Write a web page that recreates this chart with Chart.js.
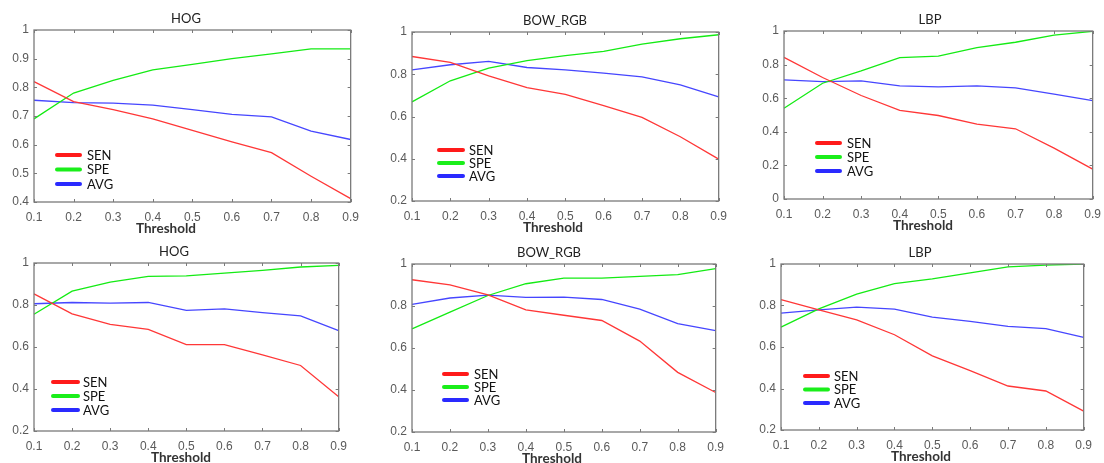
<!DOCTYPE html>
<html>
<head>
<meta charset="utf-8">
<script src="https://cdn.jsdelivr.net/npm/chart.js@4.4.1/dist/chart.umd.min.js"></script>
<style>
  html, body { margin: 0; padding: 0; background: #fff; overflow: hidden; width: 1104px; height: 463px; }
  canvas { position: absolute; }
</style>
</head>
<body>
<canvas id="c1"></canvas>
<canvas id="c2"></canvas>
<canvas id="c3"></canvas>
<canvas id="c4"></canvas>
<canvas id="c5"></canvas>
<canvas id="c6"></canvas>
<script>
// DATA

const thresholds = ['0.1', '0.2', '0.3', '0.4', '0.5', '0.6', '0.7', '0.8', '0.9'];
const seriesNames = ['SEN', 'SPE', 'AVG'];

// top row
const hogSenTop = [0.82, 0.75, 0.722, 0.69, 0.65, 0.61, 0.572, 0.49, 0.412];
const hogSpeTop = [0.69, 0.78, 0.824, 0.861, 0.88, 0.90, 0.917, 0.934, 0.934];
const hogAvgTop = [0.755, 0.747, 0.745, 0.738, 0.722, 0.706, 0.697, 0.647, 0.618];

const bowSenTop = [0.884, 0.856, 0.792, 0.737, 0.705, 0.651, 0.596, 0.504, 0.398];
const bowSpeTop = [0.669, 0.769, 0.829, 0.864, 0.888, 0.908, 0.943, 0.968, 0.987];
const bowAvgTop = [0.821, 0.845, 0.861, 0.832, 0.821, 0.805, 0.788, 0.75, 0.693];

const lbpSenTop = [0.843, 0.723, 0.616, 0.527, 0.497, 0.446, 0.418, 0.303, 0.178];
const lbpSpeTop = [0.54, 0.689, 0.762, 0.842, 0.851, 0.901, 0.933, 0.976, 0.998];
const lbpAvgTop = [0.709, 0.699, 0.703, 0.673, 0.667, 0.673, 0.661, 0.624, 0.586];

// bottom row
const hogSenBot = [0.853, 0.758, 0.708, 0.684, 0.611, 0.611, 0.562, 0.512, 0.363];
const hogSpeBot = [0.756, 0.866, 0.909, 0.936, 0.939, 0.952, 0.965, 0.981, 0.989];
const hogAvgBot = [0.806, 0.812, 0.809, 0.812, 0.774, 0.782, 0.764, 0.748, 0.678];

const bowSenBot = [0.925, 0.901, 0.853, 0.782, 0.756, 0.731, 0.633, 0.484, 0.388];
const bowSpeBot = [0.691, 0.771, 0.85, 0.906, 0.933, 0.933, 0.941, 0.949, 0.978];
const bowAvgBot = [0.808, 0.838, 0.852, 0.841, 0.842, 0.831, 0.785, 0.716, 0.683];

const lbpSenBot = [0.828, 0.779, 0.731, 0.659, 0.557, 0.486, 0.412, 0.388, 0.291];
const lbpSpeBot = [0.696, 0.784, 0.855, 0.905, 0.928, 0.957, 0.986, 0.995, 1.0];
const lbpAvgBot = [0.763, 0.779, 0.792, 0.783, 0.744, 0.723, 0.699, 0.689, 0.646];

// LAYOUT (plot box in page pixels: left, top, right, bottom; title centres in page x)

const lineColors = ['rgb(255,55,55)', 'rgb(20,235,20)', 'rgb(70,70,255)'];
const legendColors = ['#ff1a1a', '#1aee1a', '#2a2aff'];

const panels = [
  { id: 'c1', title: 'HOG', data: [hogSenTop, hogSpeTop, hogAvgTop], yMin: 0.4, yStep: 0.1,
    box: [34, 30, 355, 202], titleX: 186, xTitleX: 166,
    legend: { x0: 23, x1: 46, tx: 53, y: 125, gap: 14.5 } },
  { id: 'c2', title: 'BOW_RGB', data: [bowSenTop, bowSpeTop, bowAvgTop], yMin: 0.2, yStep: 0.2,
    box: [412, 32, 723, 201], titleX: 555, xTitleX: 553,
    legend: { x0: 27, x1: 51, tx: 57, y: 118, gap: 13 } },
  { id: 'c3', title: 'LBP', data: [lbpSenTop, lbpSpeTop, lbpAvgTop], yMin: 0, yStep: 0.2,
    box: [784, 31, 1097, 199], titleX: 930, xTitleX: 923,
    legend: { x0: 33, x1: 56, tx: 63, y: 112, gap: 14 } },
  { id: 'c4', title: 'HOG', data: [hogSenBot, hogSpeBot, hogAvgBot], yMin: 0.2, yStep: 0.2,
    box: [34, 263, 343, 431], titleX: 174, xTitleX: 181,
    legend: { x0: 19, x1: 44, tx: 49, y: 119, gap: 14 } },
  { id: 'c5', title: 'BOW_RGB', data: [bowSenBot, bowSpeBot, bowAvgBot], yMin: 0.2, yStep: 0.2,
    box: [412, 264, 720, 432], titleX: 549, xTitleX: 552,
    legend: { x0: 32, x1: 55, tx: 62, y: 110, gap: 13 } },
  { id: 'c6', title: 'LBP', data: [lbpSenBot, lbpSpeBot, lbpAvgBot], yMin: 0.2, yStep: 0.2,
    box: [781, 264, 1088, 430], titleX: 920, xTitleX: 921,
    legend: { x0: 24, x1: 47, tx: 53, y: 112, gap: 13.5 } },
];

const AXIS_W = 40;
const TOP_H = 30;
const X_H = 36;
const RIGHT_PAD = 12;
const AXIS_COLOR = '#7a7a7a';
const LABEL_FONT = 'Lato, "Open Sans", sans-serif';

// box, inward ticks, titles and legend, MATLAB style
const framePlugin = {
  id: 'frame',
  afterDraw(chart, args, opts) {
    const ctx = chart.ctx;
    const a = chart.chartArea;
    const xs = chart.scales.x;
    const ys = chart.scales.y;
    const tl = 3;
    ctx.save();
    ctx.strokeStyle = AXIS_COLOR;
    ctx.lineWidth = 1.3;
    ctx.strokeRect(a.left, a.top, a.right - a.left, a.bottom - a.top);
    ctx.lineWidth = 1;
    ctx.beginPath();
    xs.ticks.forEach(function (t, i) {
      const px = Math.round(xs.getPixelForTick(i)) + 0.5;
      ctx.moveTo(px, a.bottom); ctx.lineTo(px, a.bottom - tl);
      ctx.moveTo(px, a.top); ctx.lineTo(px, a.top + tl);
    });
    ys.ticks.forEach(function (t) {
      const py = Math.round(ys.getPixelForValue(t.value)) + 0.5;
      ctx.moveTo(a.left, py); ctx.lineTo(a.left + tl, py);
      ctx.moveTo(a.right, py); ctx.lineTo(a.right - tl, py);
    });
    ctx.stroke();

    // titles
    ctx.textAlign = 'center';
    ctx.textBaseline = 'middle';
    ctx.fillStyle = '#222';
    ctx.font = '13px ' + LABEL_FONT;
    ctx.fillText(opts.title, opts.titleX, a.top - 11);
    ctx.fillStyle = '#333';
    ctx.font = 'bold 13.5px ' + LABEL_FONT;
    ctx.fillText(opts.xTitle, opts.xTitleX, a.bottom + 27);

    // legend
    const lg = opts.legend;
    ctx.textAlign = 'left';
    ctx.lineCap = 'round';
    ctx.lineWidth = 4;
    ctx.font = '13px ' + LABEL_FONT;
    ctx.fillStyle = '#111';
    chart.data.datasets.forEach(function (ds, i) {
      const y = a.top + lg.y + i * lg.gap;
      ctx.strokeStyle = legendColors[i];
      ctx.beginPath();
      ctx.moveTo(a.left + lg.x0, y);
      ctx.lineTo(a.left + lg.x1, y);
      ctx.stroke();
      ctx.fillText(ds.label, a.left + lg.tx, y + 0.5);
    });
    ctx.restore();
  }
};

function fmt(v) {
  return String(Math.round(v * 10) / 10);
}

panels.forEach(function (p) {
  const canvas = document.getElementById(p.id);
  const [L, T, R, B] = p.box;
  const w = (R - L) + AXIS_W + RIGHT_PAD;
  const h = (B - T) + TOP_H + X_H;
  const left = L - AXIS_W;
  canvas.width = w;
  canvas.height = h;
  canvas.style.left = left + 'px';
  canvas.style.top = (T - TOP_H) + 'px';
  canvas.style.width = w + 'px';
  canvas.style.height = h + 'px';

  new Chart(canvas.getContext('2d'), {
    type: 'line',
    data: {
      labels: thresholds,
      datasets: p.data.map(function (vals, i) {
        return {
          label: seriesNames[i],
          data: vals,
          borderColor: lineColors[i],
          borderWidth: 1.3,
          pointRadius: 0,
          tension: 0,
          fill: false,
        };
      }),
    },
    options: {
      responsive: false,
      animation: false,
      devicePixelRatio: 1,
      layout: { padding: { left: 0, right: RIGHT_PAD, top: TOP_H, bottom: 0 } },
      plugins: {
        legend: { display: false },
        tooltip: { enabled: false },
        title: { display: false },
        frame: {
          legend: p.legend,
          title: p.title,
          titleX: p.titleX - left,
          xTitle: 'Threshold',
          xTitleX: p.xTitleX - left,
        },
      },
      scales: {
        x: {
          type: 'category',
          offset: false,
          grid: { display: false, drawTicks: false },
          border: { display: false },
          ticks: {
            color: '#5a5a5a',
            font: { family: '"Liberation Sans", Arial, sans-serif', size: 12 },
            padding: 8,
            maxRotation: 0,
            autoSkip: false,
          },
          afterFit: function (scale) { scale.height = X_H; },
        },
        y: {
          min: p.yMin,
          max: 1,
          grid: { display: false, drawTicks: false },
          border: { display: false },
          ticks: {
            stepSize: p.yStep,
            color: '#5a5a5a',
            font: { family: '"Liberation Sans", Arial, sans-serif', size: 12 },
            padding: 5,
            callback: fmt,
          },
          afterFit: function (scale) { scale.width = AXIS_W; },
        },
      },
    },
    plugins: [framePlugin],
  });
});
</script>
</body>
</html>
